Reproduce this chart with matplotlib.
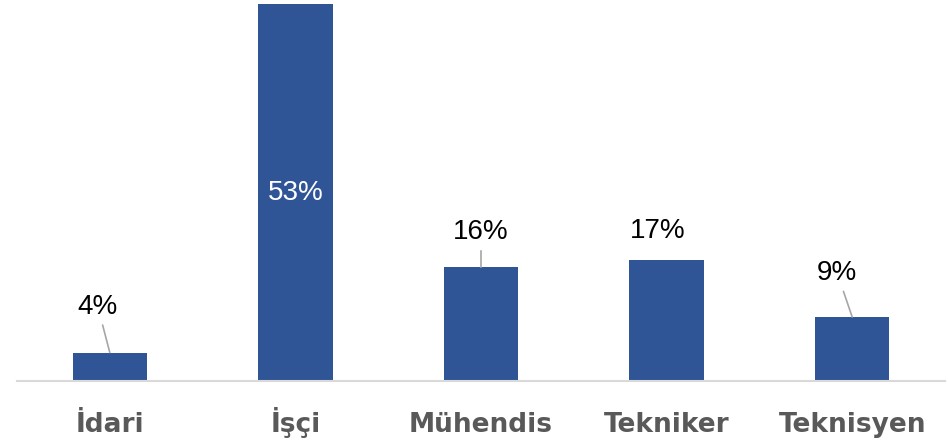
import matplotlib
matplotlib.use("Agg")
import matplotlib.pyplot as plt

categories = ["İdari", "İşçi", "Mühendis", "Tekniker", "Teknisyen"]
shares = [4, 53, 16, 17, 9]
labels = ["4%", "53%", "16%", "17%", "9%"]

# label offsets from bar top (pixels), None = inside the bar
label_offsets = [(-12, 46), None, (0, 35), (-9, 29), (-15, 44)]
leader = [True, False, True, False, True]

bar_color = "#2F5597"
label_font = ["Liberation Sans Narrow", "Liberation Sans", "DejaVu Sans"]

fig = plt.figure(figsize=(9.48, 4.43), dpi=100)
ax = fig.add_axes([17 / 948, 62 / 443, 928 / 948, 381 / 443])

x = list(range(len(categories)))
bars = ax.bar(x, shares, width=0.4, color=bar_color)

ax.set_xlim(-0.5, 4.5)
ax.set_ylim(0, 53.6)
for s in ["top", "right", "left"]:
    ax.spines[s].set_visible(False)
ax.spines["bottom"].set_color("#D9D9D9")
ax.spines["bottom"].set_linewidth(1.5)
ax.set_yticks([])
ax.set_xticks(x)
ax.set_xticklabels(categories, fontsize=19, fontweight="bold", color="#595959",
                   family="DejaVu Sans")
for t in ax.get_xticklabels():
    t.set_va("baseline")
ax.tick_params(axis="x", length=0, pad=36.5)

for i, v in enumerate(shares):
    off = label_offsets[i]
    if off is None:
        ax.text(i, v / 2, labels[i], ha="center", va="center", color="white",
                fontsize=20, family=label_font)
        continue
    arrow = dict(arrowstyle="-", color="#A6A6A6", lw=1.2, shrinkA=2, shrinkB=0) if leader[i] else None
    ax.annotate(labels[i], xy=(i, v), xytext=off, textcoords="offset pixels",
                ha="center", va="center", fontsize=20, family=label_font,
                color="black", arrowprops=arrow)

fig.savefig("out.png", dpi=100)
